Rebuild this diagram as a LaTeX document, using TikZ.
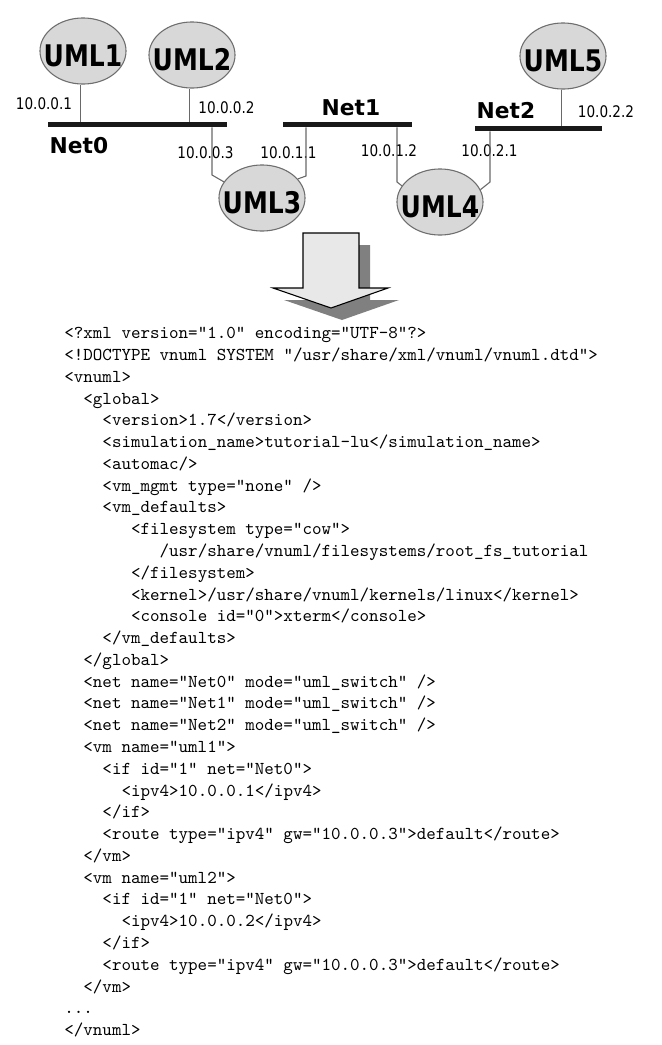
\documentclass[tikz,border=0pt]{standalone}
\usepackage{fontspec}
\usetikzlibrary{shapes.geometric}

\newfontfamily\umlfont{DejaVu Sans}[FakeStretch=0.84]
\newfontfamily\netfont{DejaVu Sans}
\newfontfamily\ipfont{DejaVu Sans}[FakeStretch=0.85]
\definecolor{umlfill}{RGB}{216,216,216}
\definecolor{umlline}{RGB}{110,110,110}
\definecolor{linkgray}{RGB}{105,105,105}
\definecolor{netbar}{RGB}{25,25,25}
\definecolor{arrowfill}{RGB}{232,232,232}
\definecolor{shadowgray}{RGB}{128,128,128}
\newlength\ttw
\setlength\ttw{5.25pt}
\newcommand{\indt}[1]{\hspace*{#1\ttw}}

\begin{document}
\begin{tikzpicture}[x=0.551pt, y=-0.551pt,
  main/.style = {ellipse, draw=umlline, fill=umlfill, line width=0.6pt, minimum width=47.4pt, minimum height=36.4pt, inner xsep=-6pt, inner ysep=0pt, text height=17.5pt, text depth=0pt, font=\umlfont\bfseries\fontsize{16.4}{18}\selectfont},
  net/.style = {fill=netbar, inner sep=0pt, minimum height=2.75pt},
  netname/.style = {font=\netfont\bfseries\fontsize{12}{14}\selectfont},
  ip/.style = {font=\ipfont\fontsize{8.8}{10}\selectfont},
  link/.style = {draw=linkgray, line width=0.6pt},
  code/.style = {anchor=north west, inner sep=0pt, align=left, font=\ttfamily\frenchspacing\fontsize{10}{12}\selectfont}]

\useasboundingbox (0,0) rectangle (661,1045);

% hosts
\node[main] (u1) at (83,51) {UML1};
\node[main] (u2) at (192,55) {UML2};
\node[main] (u3) at (262,198) {UML3};
\node[main] (u4) at (440,202) {UML4};
\node[main] (u5) at (563,56) {UML5};

% switches
\node[net, minimum width=98.6pt] (n0) at (137.5,124.5) {};
\node[net, minimum width=71.1pt] (n1) at (347.5,124.5) {};
\node[net, minimum width=70pt] (n2) at (538.5,128.5) {};

\node[netname] (t0) at (79,146) {Net0};
\node[netname] (t1) at (351,108) {Net1};
\node[netname] (t2) at (506,111) {Net2};

\node[ip] (a1) at (44,104) {10.0.0.1};
\node[ip] (a2) at (226.5,108) {10.0.0.2};
\node[ip] (a3) at (205.5,152.5) {10.0.0.3};
\node[ip] (a4) at (288.5,152.5) {10.0.1.1};
\node[ip] (a5) at (389,151) {10.0.1.2};
\node[ip] (a6) at (489.5,151) {10.0.2.1};
\node[ip] (a7) at (606,112) {10.0.2.2};

% links
\coordinate (c1) at (212,175);
\coordinate (c2) at (306,176);
\coordinate (c3) at (397,182);
\coordinate (c4) at (490,182);

\draw[link] (u1.265) -- (u1.265 |- n0.north);
\draw[link] (u2.265) -- (u2.265 |- n0.north);
\draw[link] (u5.268) -- (u5.268 |- n2.north);
\draw[link] (c1 |- n0.south) -- (c1) -- (u3.157);
\draw[link] (c2 |- n1.south) -- (c2) -- (u3.28);
\draw[link] (c3 |- n1.south) -- (c3) -- (u4.157);
\draw[link] (c4 |- n2.south) -- (c4) -- (u4.17);

% big arrow
\fill[shadowgray] (314,245) -- (370,245) -- (370,300) -- (399,300) -- (342,320) -- (284,300) -- (314,300) -- cycle;
\draw[fill=arrowfill, line width=0.6pt] (303,233) -- (359,233) -- (359,288) -- (388,288) -- (331,308) -- (273,288) -- (303,288) -- cycle;

% vnuml file
\node[code] (xml) at (64,327) {<?xml version="1.0" encoding="UTF-8"?>\\
<!DOCTYPE vnuml SYSTEM "/usr/share/xml/vnuml/vnuml.dtd">\\
<vnuml>\\
\indt{2}<global>\\
\indt{4}<version>1.7</version>\\
\indt{4}<simulation\_name>tutorial-lu</simulation\_name>\\
\indt{4}<automac/>\\
\indt{4}<vm\_mgmt type="none" />\\
\indt{4}<vm\_defaults>\\
\indt{7}<filesystem type="cow">\\
\indt{10}/usr/share/vnuml/filesystems/root\_fs\_tutorial\\
\indt{7}</filesystem>\\
\indt{7}<kernel>/usr/share/vnuml/kernels/linux</kernel>\\
\indt{7}<console id="0">xterm</console>\\
\indt{4}</vm\_defaults>\\
\indt{2}</global>\\
\indt{2}<net name="Net0" mode="uml\_switch" />\\
\indt{2}<net name="Net1" mode="uml\_switch" />\\
\indt{2}<net name="Net2" mode="uml\_switch" />\\
\indt{2}<vm name="uml1">\\
\indt{4}<if id="1" net="Net0">\\
\indt{6}<ipv4>10.0.0.1</ipv4>\\
\indt{4}</if>\\
\indt{4}<route type="ipv4" gw="10.0.0.3">default</route>\\
\indt{2}</vm>\\
\indt{2}<vm name="uml2">\\
\indt{4}<if id="1" net="Net0">\\
\indt{6}<ipv4>10.0.0.2</ipv4>\\
\indt{4}</if>\\
\indt{4}<route type="ipv4" gw="10.0.0.3">default</route>\\
\indt{2}</vm>\\
...\\
</vnuml>};

\end{tikzpicture}
\end{document}
